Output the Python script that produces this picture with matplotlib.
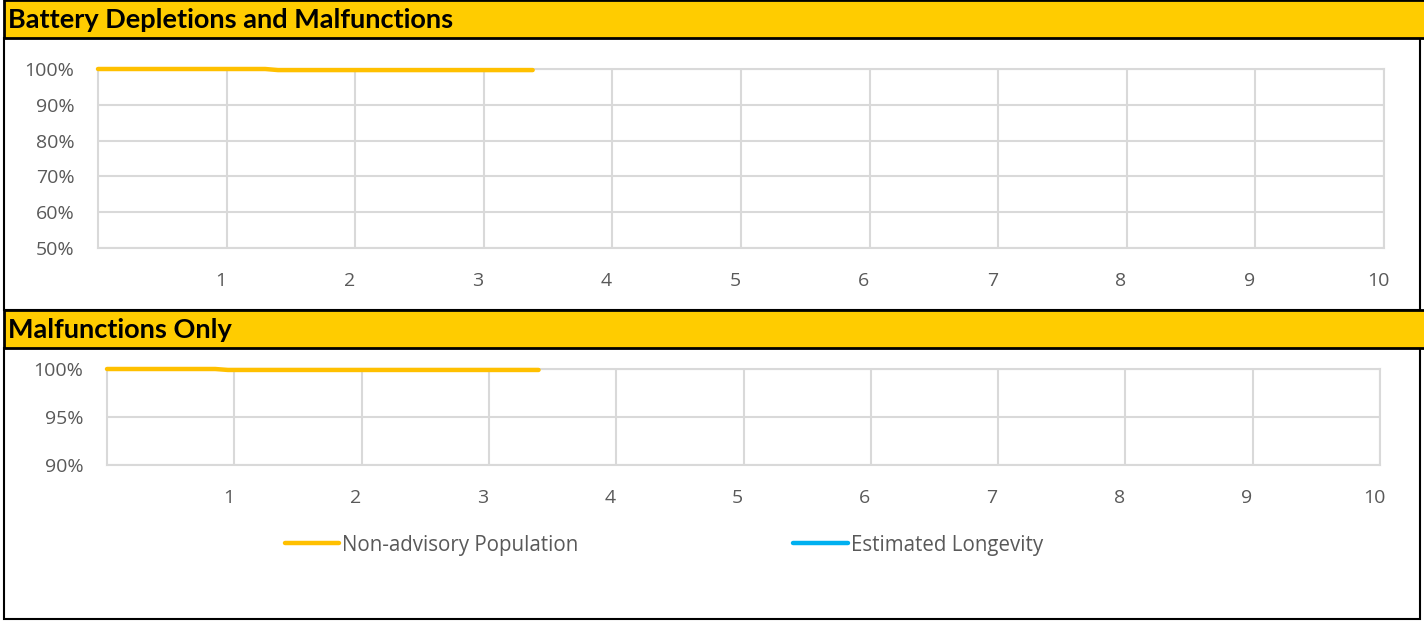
import matplotlib.pyplot as plt
from matplotlib.patches import Rectangle
from matplotlib.ticker import PercentFormatter
from matplotlib.transforms import ScaledTranslation

# data (years vs survival %)
years_all = [0.0, 0.5, 1.0, 1.3, 1.4, 2.0, 2.5, 3.0, 3.38]
surv_all = [100.0, 100.0, 100.0, 100.0, 99.7, 99.7, 99.7, 99.7, 99.7]
years_malf = [0.0, 0.5, 0.85, 0.95, 1.5, 2.0, 2.5, 3.0, 3.39]
surv_malf = [100.0, 100.0, 100.0, 99.9, 99.9, 99.9, 99.9, 99.9, 99.9]
est_years = []
est_surv = []

x_ticks = list(range(1, 11))
top_yticks = [50, 60, 70, 80, 90, 100]
bot_yticks = [90, 95, 100]

W, H = 1424, 621
fig = plt.figure(figsize=(W / 100, H / 100), dpi=100)

yellow_bar = '#FFCC00'
line_col = '#FFC000'
blue = '#00B0F0'
grid_col = '#D9D9D9'
txt_col = '#595959'


def px_rect(x0, y0, x1, y1, **kw):
    # rectangle in pixel coords with y measured from the top
    r = Rectangle((x0 / W, 1 - y1 / H), (x1 - x0) / W, (y1 - y0) / H,
                  transform=fig.transFigure, zorder=-1, **kw)
    fig.patches.append(r)


def px_axes(x0, y0, x1, y1):
    ax = fig.add_axes([x0 / W, 1 - y1 / H, (x1 - x0) / W, (y1 - y0) / H])
    ax.set_zorder(2)
    return ax


# panel frames and title bars
px_rect(4, 38, 1420, 310, facecolor='white', edgecolor='black', lw=1.5)
px_rect(4, 348, 1420, 619, facecolor='white', edgecolor='black', lw=1.5)
px_rect(4, 0, 1430, 38, facecolor=yellow_bar, edgecolor='black', lw=2)
px_rect(4, 310, 1430, 348, facecolor=yellow_bar, edgecolor='black', lw=2)

fig.text(8 / W, 1 - 20 / H, 'Battery Depletions and Malfunctions', fontsize=19.5,
         fontweight='bold', family='Lato', va='center', ha='left')
fig.text(8 / W, 1 - 330 / H, 'Malfunctions Only', fontsize=19.5,
         fontweight='bold', family='Lato', va='center', ha='left')

shift = ScaledTranslation(-6 / 100, 0, fig.dpi_scale_trans)


def style(ax, ylo, yticks):
    ax.set_xlim(0, 10)
    ax.set_ylim(ylo, 100)
    ax.set_xticks(x_ticks)
    ax.set_yticks(yticks)
    ax.yaxis.set_major_formatter(PercentFormatter(decimals=0))
    ax.grid(True, color=grid_col, lw=1.5)
    ax.set_axisbelow(True)
    for s in ax.spines.values():
        s.set_color(grid_col)
        s.set_linewidth(1.5)
    ax.tick_params(length=0, colors=txt_col, labelsize=14)
    ax.tick_params(axis='x', pad=17.5)
    ax.tick_params(axis='y', pad=17)
    for lab in ax.get_xticklabels():
        lab.set_family('Open Sans')
        lab.set_transform(lab.get_transform() + shift)
    for lab in ax.get_yticklabels():
        lab.set_family('Open Sans')


ax1 = px_axes(98, 69, 1384, 248)
style(ax1, 50, top_yticks)
ax1.plot(years_all, surv_all, color=line_col, lw=3.2, solid_capstyle='round',
         clip_on=False, zorder=4)
ax1.plot(est_years, est_surv, color=blue, lw=3.2)

ax2 = px_axes(107, 369, 1380, 465)
style(ax2, 90, bot_yticks)
l1, = ax2.plot(years_malf, surv_malf, color=line_col, lw=3.2, solid_capstyle='round',
               clip_on=False, zorder=4, label='Non-advisory Population')
l2, = ax2.plot(est_years, est_surv, color=blue, lw=3.2, solid_capstyle='round',
               label='Estimated Longevity')

leg = fig.legend(handles=[l1, l2], loc='center left', bbox_to_anchor=(266 / W, 1 - 545 / H),
                 ncol=2, frameon=False, handlelength=2.65, handletextpad=0.15,
                 columnspacing=10.45, prop={'family': 'Open Sans', 'size': 14.8})
for t in leg.get_texts():
    t.set_color(txt_col)

fig.savefig('out.png', dpi=100)
